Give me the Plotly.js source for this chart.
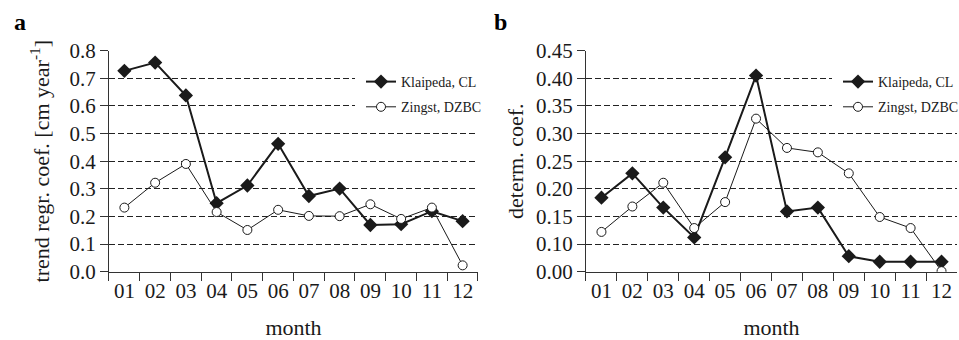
<!DOCTYPE html>
<html>
<head>
<meta charset="utf-8">
<script src="https://cdn.plot.ly/plotly-3.0.1.min.js"></script>
<style>body{margin:0;padding:0;background:#fff}#chart{width:959px;height:340px}</style>
</head>
<body>
<div id="chart"></div>
<script>
// ---- data ----
var months = ["01","02","03","04","05","06","07","08","09","10","11","12"];
// panel a: trend regression coefficient [cm year^-1]
var trendKlaipeda = [0.727,0.757,0.638,0.248,0.312,0.463,0.274,0.301,0.169,0.172,0.219,0.183];
var trendZingst   = [0.232,0.322,0.390,0.216,0.151,0.224,0.202,0.201,0.244,0.191,0.232,0.023];
// panel b: determination coefficient (positions as drawn on the printed axis)
var determKlaipeda = [0.184,0.228,0.166,0.112,0.257,0.405,0.159,0.166,0.078,0.068,0.068,0.068];
var determZingst   = [0.122,0.168,0.211,0.129,0.176,0.327,0.274,0.266,0.228,0.149,0.129,0.051];
// tick labels
var aTickVals = [0,0.1,0.2,0.3,0.4,0.5,0.6,0.7,0.8];
var aTickText = ["0.0","0.1","0.2","0.3","0.4","0.5","0.6","0.7","0.8"];
var bTickVals = [0.05,0.10,0.15,0.20,0.25,0.30,0.35,0.40,0.45];
var bTickText = ["0.00","0.10","0.15","0.20","0.25","0.30","0.35","0.40","0.45"];
var seriesNames = ["Klaipeda, CL","Zingst, DZBC"];

var ink = "#1a1a1a";
var FONT = "Liberation Serif";

function kTrace(y, xa, ya, lg, grp){
  return {x: months, y: y, xaxis: xa, yaxis: ya, legend: lg, legendgroup: grp,
    name: seriesNames[0], mode: "lines+markers", type: "scatter",
    line: {color: ink, width: 2},
    marker: {symbol: "diamond", size: 11, color: ink, line: {color: ink, width: 0}}};
}
function zTrace(y, xa, ya, lg, grp){
  return {x: months, y: y, xaxis: xa, yaxis: ya, legend: lg, legendgroup: grp,
    name: seriesNames[1], mode: "lines+markers", type: "scatter",
    line: {color: ink, width: 1},
    marker: {symbol: "circle", size: 9, color: "#ffffff", line: {color: ink, width: 1}}};
}

var data = [
  kTrace(trendKlaipeda, "x", "y", "legend", "a1"),
  zTrace(trendZingst, "x", "y", "legend", "a2"),
  kTrace(determKlaipeda, "x2", "y2", "legend2", "b1"),
  zTrace(determZingst, "x2", "y2", "legend2", "b2")
];

function xAxis(dom, anchor){
  return {domain: dom, anchor: anchor, type: "category", range: [-0.5, 11.5],
    showline: true, linecolor: "#333", linewidth: 1, showgrid: false, zeroline: false,
    ticks: "outside", ticklen: 8, tickcolor: "#333", tickwidth: 1, tickson: "boundaries",
    tickangle: 0, automargin: false,
    tickfont: {family: FONT, size: 21, color: ink},
    title: {text: "month", font: {family: FONT, size: 22, color: ink}, standoff: 21}};
}
function yAxis(dom, anchor, range, tv, tt, title, minorVals, standoff){
  return {domain: dom, anchor: anchor, range: range, tickmode: "array", tickvals: tv, ticktext: tt,
    showline: true, linecolor: "#333", linewidth: 1, showgrid: false, zeroline: false,
    ticks: "outside", ticklen: 8, tickcolor: "#333", tickwidth: 1, automargin: false,
    tickfont: {family: FONT, size: 21, color: ink},
    minor: {tickmode: "array", tickvals: minorVals, ticks: "", showgrid: true,
            gridcolor: "#222", gridwidth: 1, griddash: "6px,3px"},
    title: {text: title, font: {family: FONT, size: 22, color: ink}, standoff: standoff}};
}

var yDom = [0.2009, 0.8509];
var legendFont = {family: FONT, size: 14, color: ink};
var layout = {
  width: 959, height: 340,
  margin: {l: 0, r: 0, t: 0, b: 0, autoexpand: false},
  font: {family: FONT, size: 20, color: ink},
  paper_bgcolor: "#fff", plot_bgcolor: "#fff",
  showlegend: true,
  xaxis: xAxis([0.11366, 0.49844], "y"),
  yaxis: yAxis(yDom, "x", [0, 0.8], aTickVals, aTickText,
               "trend regr. coef. [cm year<sup>-1</sup>]", [0.1,0.2,0.3,0.4,0.5,0.6,0.7], 13),
  xaxis2: xAxis([0.61105, 0.99791], "y2"),
  yaxis2: yAxis(yDom, "x2", [0.05, 0.45], bTickVals, bTickText,
               "determ. coef.", [0.10,0.15,0.20,0.25,0.30,0.35,0.40], 6),
  legend: {x: 355/959, y: 1 - 60/340, xanchor: "left", yanchor: "top", bgcolor: "#fff",
           bordercolor: "#fff", borderwidth: 6, font: legendFont, tracegroupgap: 4, traceorder: "grouped"},
  legend2: {x: 832/959, y: 1 - 60/340, xanchor: "left", yanchor: "top", bgcolor: "#fff",
           bordercolor: "#fff", borderwidth: 6, font: legendFont, tracegroupgap: 4, traceorder: "grouped"},
  annotations: [
    {text: "<b>a</b>", xref: "paper", yref: "paper", x: 12/959, y: 1 - 22/340,
     xanchor: "left", yanchor: "middle", showarrow: false, font: {family: FONT, size: 24, color: "#000"}},
    {text: "<b>b</b>", xref: "paper", yref: "paper", x: 492/959, y: 1 - 22/340,
     xanchor: "left", yanchor: "middle", showarrow: false, font: {family: FONT, size: 24, color: "#000"}}
  ]
};

Plotly.newPlot("chart", data, layout, {displayModeBar: false, staticPlot: true});
</script>
</body>
</html>
